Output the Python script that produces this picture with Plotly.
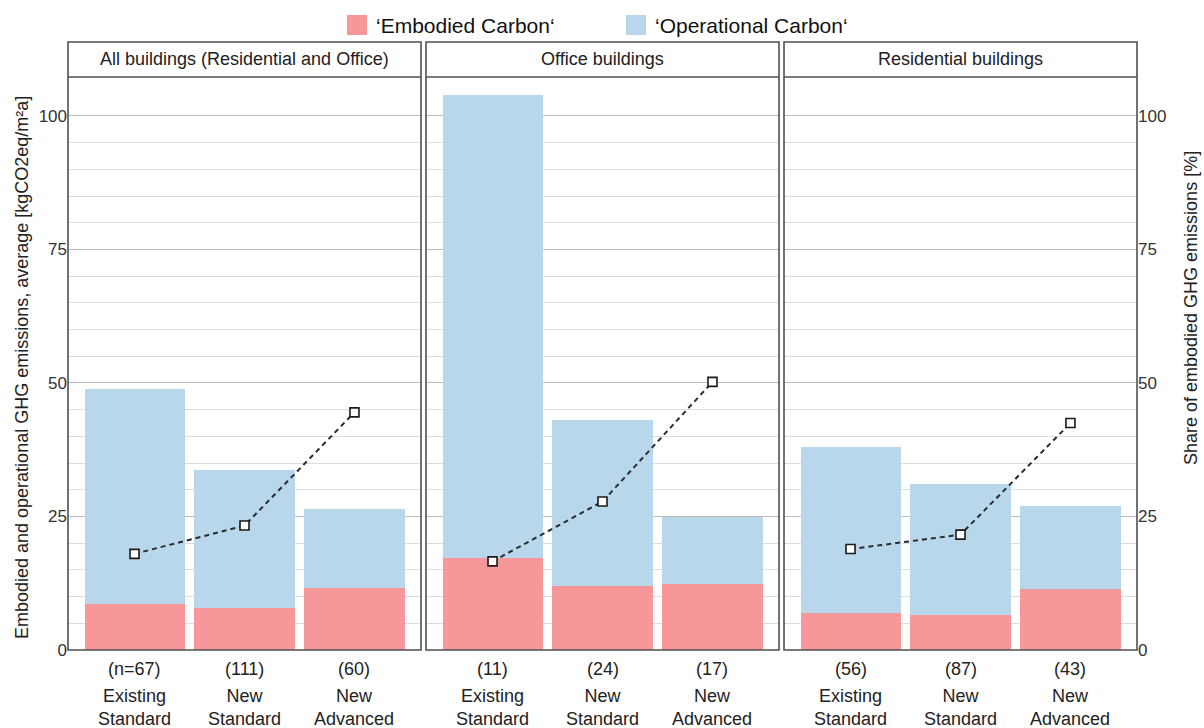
import plotly.graph_objects as go

# ---------------- data ----------------
panels = ["All buildings (Residential and Office)", "Office buildings", "Residential buildings"]
categories = ["Existing<br>Standard", "New<br>Standard", "New<br>Advanced"]
sample_sizes = [["(n=67)", "(111)", "(60)"],
                ["(11)", "(24)", "(17)"],
                ["(56)", "(87)", "(43)"]]
embodied = [[8.6, 7.8, 11.6],
            [17.2, 11.9, 12.4],
            [7.0, 6.6, 11.4]]
operational = [[40.2, 26.0, 14.8],
               [86.8, 31.2, 12.6],
               [31.0, 24.5, 15.6]]
share_embodied = [[18.0, 23.3, 44.5],
                  [16.6, 27.8, 50.2],
                  [18.9, 21.6, 42.5]]
series_names = ["\u2018Embodied Carbon\u2018", "\u2018Operational Carbon\u2018"]
major_ticks = [0, 25, 50, 75, 100]
minor_ticks = [5, 10, 15, 20, 30, 35, 40, 45, 55, 60, 65, 70, 80, 85, 90, 95]

# ---------------- styling ----------------
FONT = "Liberation Sans, Arial, sans-serif"
C_EMB = "#F6979A"
C_OP = "#B8D7EA"
BORDER = "#505050"
TXT = "#222222"
YMAX = 107.3
W, H = 1204, 728
ML, MR, MT, MB = 68, 67, 42, 78
plot_w = W - ML - MR
plot_h = H - MT - MB
PL, PB = ML, H - MB   # page px of plot-area left / bottom


def pxx(xpage):
    return (xpage - PL) / plot_w


def pxy(ypage):
    return (PB - ypage) / plot_h


header_bottom = pxy(77)
domains = [(pxx(68), pxx(421)), (pxx(426), pxx(779)), (pxx(784), 1.0)]
xpos = [0, 1, 2]

fig = go.Figure()

for i in range(3):
    xa = "x" if i == 0 else f"x{i+1}"
    ya = "y" if i == 0 else f"y{i+1}"
    fig.add_trace(go.Bar(x=xpos, y=embodied[i], marker_color=C_EMB, width=0.91,
                         name=series_names[0], showlegend=False,
                         xaxis=xa, yaxis=ya, marker_line_width=0))
    fig.add_trace(go.Bar(x=xpos, y=operational[i], marker_color=C_OP, width=0.91,
                         name=series_names[1], showlegend=False,
                         xaxis=xa, yaxis=ya, marker_line_width=0))
    share_axis = ya if i < 2 else "y4"
    fig.add_trace(go.Scatter(x=xpos, y=share_embodied[i], mode="lines+markers",
                             line=dict(color="#2b2b2b", width=2, dash="5px,4px"),
                             marker=dict(symbol="square", size=9, color="white",
                                         line=dict(color="#1a1a1a", width=1.6)),
                             showlegend=False, xaxis=xa, yaxis=share_axis))

layout = dict(
    width=W, height=H,
    margin=dict(l=ML, r=MR, t=MT, b=MB),
    paper_bgcolor="white", plot_bgcolor="white",
    barmode="stack",
    font=dict(family=FONT, size=18, color=TXT),
    showlegend=False,
)

for i in range(3):
    xk = "xaxis" if i == 0 else f"xaxis{i+1}"
    yk = "yaxis" if i == 0 else f"yaxis{i+1}"
    ya = "y" if i == 0 else f"y{i+1}"
    xa = "x" if i == 0 else f"x{i+1}"
    layout[xk] = dict(domain=list(domains[i]), anchor=ya, range=[-0.605, 2.605],
                      showticklabels=False, showgrid=False, zeroline=False,
                      showline=False, ticks="", fixedrange=True)
    layout[yk] = dict(domain=[0, header_bottom], anchor=xa, range=[0, YMAX],
                      tickmode="array", tickvals=major_ticks,
                      showticklabels=(i == 0), ticks="",
                      showgrid=True, gridcolor="#bcbcbc", gridwidth=1,
                      minor=dict(tickmode="array", tickvals=minor_ticks,
                                 showgrid=True, gridcolor="#dcdcdc", gridwidth=1),
                      zeroline=False, showline=False,
                      tickfont=dict(size=17, color="#333"))

layout["yaxis4"] = dict(overlaying="y3", anchor="x3", side="right", range=[0, YMAX],
                        tickmode="array", tickvals=major_ticks, showgrid=False,
                        zeroline=False, showline=False, ticks="",
                        tickfont=dict(size=17, color="#333"))

fig.update_layout(**layout)

# panel borders and header strips
for i, (d0, d1) in enumerate(domains):
    fig.add_shape(type="rect", xref="paper", yref="paper", x0=d0, x1=d1, y0=0, y1=1,
                  line=dict(color=BORDER, width=1.6), layer="above")
    fig.add_shape(type="line", xref="paper", yref="paper", x0=d0, x1=d1,
                  y0=header_bottom, y1=header_bottom,
                  line=dict(color=BORDER, width=1.6), layer="above")
    fig.add_annotation(text=panels[i], xref="paper", yref="paper",
                       x=(d0 + d1) / 2, y=(header_bottom + 1) / 2,
                       showarrow=False, font=dict(size=18, color=TXT),
                       xanchor="center", yanchor="middle")
    xa = "x" if i == 0 else f"x{i+1}"
    for j in range(3):
        fig.add_annotation(text=sample_sizes[i][j], xref=xa, yref="paper",
                           x=xpos[j], y=pxy(669), showarrow=False,
                           font=dict(size=18, color=TXT),
                           xanchor="center", yanchor="middle")
        fig.add_annotation(text=categories[j], xref=xa, yref="paper",
                           x=xpos[j], y=pxy(707), showarrow=False,
                           font=dict(size=18, color=TXT),
                           xanchor="center", yanchor="middle")

# manual legend (20 px squares)
legend_items = [(347, C_EMB, series_names[0]), (626, C_OP, series_names[1])]
for xl, col, name in legend_items:
    fig.add_shape(type="rect", xref="paper", yref="paper",
                  x0=pxx(xl), x1=pxx(xl + 20), y0=pxy(35), y1=pxy(15),
                  line=dict(width=0), fillcolor=col)
    fig.add_annotation(text=name, xref="paper", yref="paper",
                       x=pxx(xl + 27), y=pxy(25), showarrow=False,
                       font=dict(size=21, color="#111"),
                       xanchor="left", yanchor="middle")

# axis titles
fig.add_annotation(text="Embodied and operational GHG emissions, average [kgCO2eq/m\u00b2a]",
                   xref="paper", yref="paper", x=pxx(22), y=pxy(368),
                   textangle=-90, showarrow=False, font=dict(size=18, color=TXT),
                   xanchor="center", yanchor="middle")
fig.add_annotation(text="Share of embodied GHG emissions [%]",
                   xref="paper", yref="paper", x=pxx(1191), y=pxy(308),
                   textangle=-90, showarrow=False, font=dict(size=18, color=TXT),
                   xanchor="center", yanchor="middle")

# remove the default 8px page margin so the 1204x728 figure fills the window exactly
fig.write_html("out.html",
               config={"displayModeBar": False},
               post_script="document.body.style.margin='0px';"
                           "document.body.style.overflow='hidden';")
